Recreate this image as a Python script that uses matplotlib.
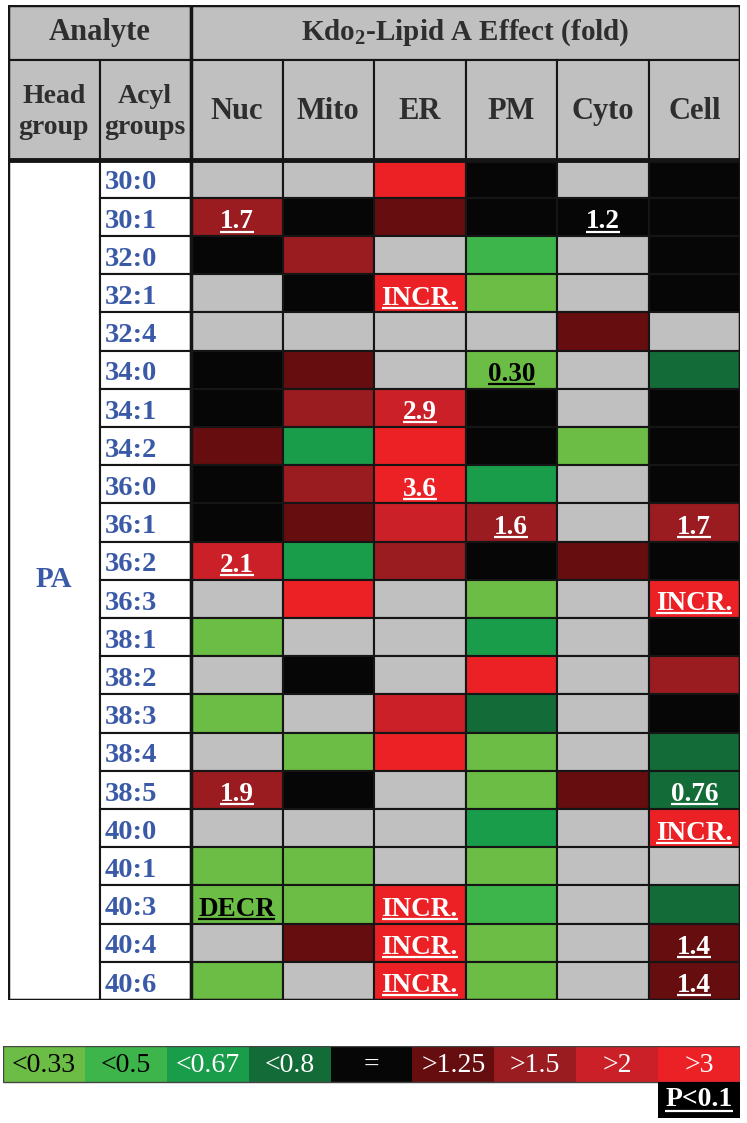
import matplotlib
matplotlib.use('Agg')
import matplotlib.pyplot as plt
from matplotlib.patches import Rectangle

plt.rcParams['font.family'] = ['Liberation Serif', 'DejaVu Serif']

# acyl groups of PA, top to bottom
acyl_groups = ['30:0', '30:1', '32:0', '32:1', '32:4', '34:0', '34:1', '34:2',
               '36:0', '36:1', '36:2', '36:3', '38:1', '38:2', '38:3', '38:4',
               '38:5', '40:0', '40:1', '40:3', '40:4', '40:6']
compartments = ['Nuc', 'Mito', 'ER', 'PM', 'Cyto', 'Cell']

# legend bins
bin_labels = ['<0.33', '<0.5', '<0.67', '<0.8', '=', '>1.25', '>1.5', '>2', '>3']
bin_colors = ['#6cbd45', '#3db54a', '#1a9d4b', '#136b38', '#060606',
              '#650d0f', '#9a1b20', '#cb2027', '#ec2125']
bin_text = ['black', 'black', 'white', 'white', 'white', 'white', 'white', 'white', 'white']
nd_color = '#c0c0c0'

# bin index per acyl group, -1 = grey
nuc = [-1, 6, 4, -1, -1, 4, 4, 5, 4, 4, 7, -1, 0, -1, 0, -1, 6, -1, 0, 0, -1, 0]
mito = [-1, 4, 6, 4, -1, 5, 6, 2, 6, 5, 2, 8, -1, 4, -1, 0, 4, -1, 0, 0, 5, -1]
er = [8, 5, -1, 8, -1, -1, 7, 8, 8, 7, 6, -1, -1, -1, 7, 8, -1, -1, -1, 8, 8, 8]
pm = [4, 4, 1, 0, -1, 0, 4, 4, 2, 6, 4, 0, 2, 8, 3, 0, 0, 2, 0, 1, 0, 0]
cyto = [-1, 4, -1, -1, 5, -1, -1, 0, -1, -1, 5, -1, -1, -1, -1, -1, 5, -1, -1, -1, -1, -1]
cell = [4, 4, 4, 4, -1, 3, 4, 4, 4, 6, 4, 8, 4, 6, 4, 3, 3, 8, -1, 3, 5, 5]

# fold changes with P<0.1
nuc_sig = {'30:1': '1.7', '36:2': '2.1', '38:5': '1.9', '40:3': 'DECR'}
mito_sig = {}
er_sig = {'32:1': 'INCR.', '34:1': '2.9', '36:0': '3.6', '40:3': 'INCR.',
          '40:4': 'INCR.', '40:6': 'INCR.'}
pm_sig = {'34:0': '0.30', '36:1': '1.6'}
cyto_sig = {'30:1': '1.2'}
cell_sig = {'36:1': '1.7', '36:3': 'INCR.', '38:5': '0.76', '40:0': 'INCR.',
            '40:4': '1.4', '40:6': '1.4'}

values = [nuc, mito, er, pm, cyto, cell]
sigs = [nuc_sig, mito_sig, er_sig, pm_sig, cyto_sig, cell_sig]

W, H = 747, 1123
fig = plt.figure(figsize=(W / 100, H / 100), dpi=100)
ax = fig.add_axes([8 / W, 1 - 1000 / H, 732 / W, 995 / H])
n = len(acyl_groups)
h1, h2 = 1.45, 2.6
ax.set_xlim(0, 8)
ax.set_ylim(n, -(h1 + h2))
ax.axis('off')

edge = '#151515'
hdr = '#c0c0c0'
hdr_txt = '#2e2e2e'
blue = '#3a5aa8'

# header rows
ax.add_patch(Rectangle((0, -(h1 + h2)), 2, h1, fc=hdr, ec=edge, lw=1.5))
ax.add_patch(Rectangle((2, -(h1 + h2)), 6, h1, fc=hdr, ec=edge, lw=1.5))
ax.text(1, -h2 - h1 / 2, 'Analyte', ha='center', va='center', fontsize=22,
        fontweight='bold', color=hdr_txt)
ax.text(5, -h2 - h1 / 2, r'Kdo$_\mathregular{2}$-Lipid A Effect (fold)', ha='center',
        va='center', fontsize=21, fontweight='bold', color=hdr_txt)
for c, lab in enumerate(['Head\ngroup', 'Acyl\ngroups'] + compartments):
    ax.add_patch(Rectangle((c, -h2), 1, h2, fc=hdr, ec=edge, lw=1.5))
    ax.text(c + 0.5, -h2 / 2 + 0.05, lab, ha='center', va='center',
            fontsize=20 if c < 2 else 22, fontweight='bold', color=hdr_txt,
            linespacing=1.35)

# head group column
ax.add_patch(Rectangle((0, 0), 1, n, fc='white', ec=edge, lw=1.5))
ax.text(0.5, n / 2, 'PA', ha='center', va='center', fontsize=21,
        fontweight='bold', color=blue)

texts = []
for i, a in enumerate(acyl_groups):
    ax.add_patch(Rectangle((1, i), 1, 1, fc='white', ec=edge, lw=1.5))
    ax.text(1.06, i + 0.78, a, ha='left', va='baseline', fontsize=20.5,
            fontweight='bold', color=blue)
    for c in range(len(compartments)):
        b = values[c][i]
        fc = nd_color if b < 0 else bin_colors[b]
        ax.add_patch(Rectangle((c + 2, i), 1, 1, fc=fc, ec=edge, lw=1.5))
        s = sigs[c].get(a)
        if s:
            tc = bin_text[b]
            t = ax.text(c + 2.5, i + 0.8, s, ha='center', va='baseline',
                        fontsize=19.5, fontweight='bold', color=tc)
            texts.append((t, i + 0.88, tc))

# heavy rules
ax.plot([0, 8], [0, 0], color=edge, lw=3.5, solid_capstyle='butt')
ax.plot([2, 2], [-(h1 + h2), n], color=edge, lw=2.5)
ax.add_patch(Rectangle((0, -(h1 + h2)), 8, n + h1 + h2, fc='none', ec=edge, lw=2.5))

# legend strip
lg = fig.add_axes([3 / W, 1 - 1118 / H, 737 / W, 72 / H])
lg.set_xlim(0, 9)
lg.set_ylim(2, 0)
lg.axis('off')
for k, (lab, col) in enumerate(zip(bin_labels, bin_colors)):
    lg.add_patch(Rectangle((k, 0), 1, 1, fc=col, ec='none'))
    lg.text(k + 0.5, 0.53, lab, ha='center', va='center', fontsize=20,
            color=bin_text[k])
lg.add_patch(Rectangle((0, 0), 9, 1, fc='none', ec='#444444', lw=1))
lg.add_patch(Rectangle((8, 1), 1, 1, fc='black', ec='none'))
t = lg.text(8.5, 1.68, 'P<0.1', ha='center', va='baseline', fontsize=20,
            fontweight='bold', color='white')

# underline significant values
fig.canvas.draw()
r = fig.canvas.get_renderer()
for tx, yl, tc in texts:
    bb = tx.get_window_extent(r)
    x0 = ax.transData.inverted().transform((bb.x0, bb.y0))[0]
    x1 = ax.transData.inverted().transform((bb.x1, bb.y0))[0]
    ax.plot([x0, x1], [yl, yl], color=tc, lw=1.6, solid_capstyle='butt')
bb = t.get_window_extent(r)
x0 = lg.transData.inverted().transform((bb.x0, bb.y0))[0]
x1 = lg.transData.inverted().transform((bb.x1, bb.y0))[0]
lg.plot([x0, x1], [1.8, 1.8], color='white', lw=1.6, solid_capstyle='butt')

fig.savefig('out.png', dpi=100)
